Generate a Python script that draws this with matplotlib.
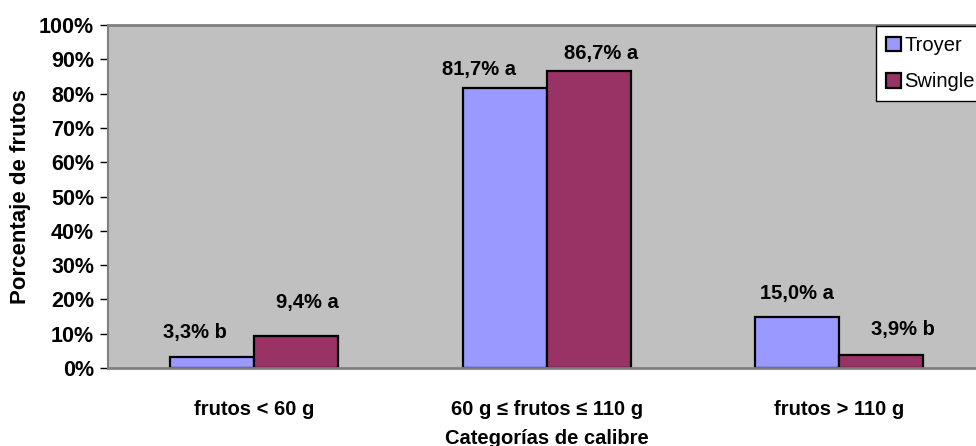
import numpy as np
import matplotlib
matplotlib.use('Agg')
import matplotlib.pyplot as plt
from matplotlib.ticker import PercentFormatter
import matplotlib.transforms as mtransforms

plt.rcParams['font.family'] = ['Liberation Sans', 'DejaVu Sans']

# data
categories = ['frutos < 60 g', '60 g \u2264 frutos \u2264 110 g', 'frutos > 110 g']
series = ['Troyer', 'Swingle']
troyer = [3.3, 81.7, 15.0]
swingle = [9.4, 86.7, 3.9]
troyer_letters = ['b', 'a', 'a']
swingle_letters = ['a', 'a', 'b']

colors = ['#9999FF', '#993366']
# label offsets (px): dx from bar centre, baseline height above bar top
troyer_off = [(-17, 19), (-26, 13), (0, 18)]
swingle_off = [(11, 28), (12, 12), (22, 20)]
xtick_shift = [13, 18, -29]

fig = plt.figure(figsize=(9.76, 4.46), dpi=100)
ax = fig.add_axes([108/976, 1 - 368/446, 877.5/976, 343/446])
ax.set_facecolor('#C0C0C0')

x = np.arange(len(categories))
w = 0.287
b1 = ax.bar(x - w/2, troyer, w, color=colors[0], edgecolor='black', linewidth=1.6, label=series[0])
b2 = ax.bar(x + w/2, swingle, w, color=colors[1], edgecolor='black', linewidth=1.6, label=series[1])

px = 0.72  # points per pixel at 100 dpi
def lab(v, l):
    return '{:.1f}'.format(v).replace('.', ',') + '% ' + l

for bars, vals, lets, offs in [(b1, troyer, troyer_letters, troyer_off),
                               (b2, swingle, swingle_letters, swingle_off)]:
    for bar, v, l, (dx, dy) in zip(bars, vals, lets, offs):
        ax.annotate(lab(v, l), (bar.get_x() + bar.get_width()/2, v),
                    xytext=(dx*px, dy*px), textcoords='offset points',
                    ha='center', va='baseline', fontsize=14.5, fontweight='bold')

ax.set_xlim(-0.5, 2.5)
ax.set_ylim(0, 100)
ax.set_yticks(np.arange(0, 101, 10))
ax.yaxis.set_major_formatter(PercentFormatter(decimals=0))
ax.set_xticks(x)
ax.set_xticklabels(categories, fontsize=14.5, fontweight='bold')
for t, s in zip(ax.get_xticklabels(), xtick_shift):
    t.set_transform(t.get_transform() + mtransforms.ScaledTranslation(s/100, 0, fig.dpi_scale_trans))
ax.tick_params(axis='x', length=0, pad=23)
ax.tick_params(axis='y', direction='out', length=6, width=1, color='black', pad=4)
for t in ax.get_yticklabels():
    t.set_fontsize(15.5)
    t.set_fontweight('bold')

ax.set_xlabel('Categorías de calibre', fontsize=14.5, fontweight='bold', labelpad=7)
ax.set_ylabel('Porcentaje de frutos', fontsize=16, fontweight='bold', labelpad=6)

for side in ['top', 'bottom', 'left']:
    ax.spines[side].set_color('#808080')
    ax.spines[side].set_linewidth(2)
ax.spines['left'].set_linewidth(1.5)
ax.spines['right'].set_visible(False)

leg = ax.legend(loc='upper left', bbox_to_anchor=(876/976, 1 - 26/446),
                bbox_transform=fig.transFigure, borderaxespad=0, fontsize=14.5,
                fancybox=False, framealpha=1, edgecolor='black',
                handlelength=0.75, handleheight=0.75, handletextpad=0.15,
                borderpad=0.5, labelspacing=0.85)
leg.get_frame().set_linewidth(1)

fig.savefig('out.png', dpi=100)
